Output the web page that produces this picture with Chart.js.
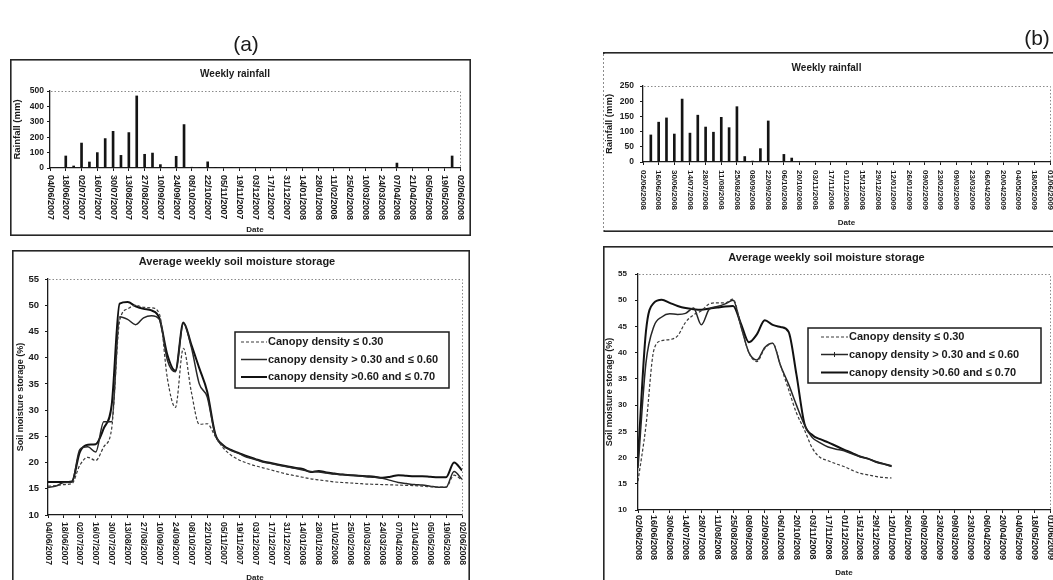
<!DOCTYPE html>
<html>
<head>
<meta charset="utf-8">
<script src="https://cdn.jsdelivr.net/npm/chart.js@4.4.1/dist/chart.umd.min.js"></script>
<style>
  html, body { margin: 0; padding: 0; background: #fff; }
  body { width: 1053px; height: 580px; overflow: hidden; position: relative;
         font-family: "Liberation Sans", Arial, Helvetica, sans-serif; }
  #sheet { position: absolute; left: 0; top: 0; width: 1053px; height: 580px; filter: blur(0.3px); }
  canvas { position: absolute; }
  .tag { position: absolute; font-size: 21px; color: #1b1b1b; transform: translate(-50%, -50%); white-space: nowrap; }
</style>
</head>
<body>
<div id="sheet">
<div class="tag" style="left:246px; top:44px;">(a)</div>
<div class="tag" style="left:1037px; top:38px;">(b)</div>

<canvas id="rainA" width="461" height="177" style="left:10px; top:59px;"></canvas>
<canvas id="soilA" width="458" height="340" style="left:12px; top:250px;"></canvas>
<canvas id="rainB" width="470" height="180" style="left:603px; top:52px;"></canvas>
<canvas id="soilB" width="470" height="345" style="left:603px; top:246px;"></canvas>
</div>

<script>
// Fortnightly date labels on the x axes (one every 2 weeks)
const datesA = ['04/06/2007','18/06/2007','02/07/2007','16/07/2007','30/07/2007','13/08/2007','27/08/2007',
  '10/09/2007','24/09/2007','08/10/2007','22/10/2007','05/11/2007','19/11/2007','03/12/2007','17/12/2007',
  '31/12/2007','14/01/2008','28/01/2008','11/02/2008','25/02/2008','10/03/2008','24/03/2008','07/04/2008',
  '21/04/2008','05/05/2008','19/05/2008','02/06/2008'];
const datesB = ['02/06/2008','16/06/2008','30/06/2008','14/07/2008','28/07/2008','11/08/2008','25/08/2008',
  '08/09/2008','22/09/2008','06/10/2008','20/10/2008','03/11/2008','17/11/2008','01/12/2008','15/12/2008',
  '29/12/2008','12/01/2009','26/01/2009','09/02/2009','23/02/2009','09/03/2009','23/03/2009','06/04/2009',
  '20/04/2009','04/05/2009','18/05/2009','01/06/2009'];

// Weekly rainfall (mm), week 0 = first date of each season
const rainA = [0,0,78,13,162,39,100,191,238,82,230,468,89,97,22,0,76,282,5,2,40,3,0,2,0,0,
  0,0,0,0,0,0,0,0,0,0,0,0,0,0,0,0,2,0,32,0,0,0,0,0,2,78,0];
const rainB = [0,89,131,145,92,207,95,154,115,98,147,113,182,18,3,44,135,0,25,13,0,0,0,0,0,0,
  0,0,0,0,0,0,0,0,0,0,0,0,0,0,0,0,0,0,0,0,0,0,0,0,0,0,0];

// Average weekly soil moisture storage (%), season 2007-08
const soilA_low = [15.5,15.6,15.8,16.0,19.5,21.0,20.4,23.0,26.5,47.0,49.3,50.0,49.6,49.5,48.3,36.0,30.5,41.8,
  33.5,27.3,27.4,25.0,22.8,21.4,20.5,19.9,19.4,19.0,18.6,18.2,17.8,17.5,17.2,16.9,16.7,16.5,16.3,16.2,16.1,
  16.0,15.9,15.85,15.8,15.75,15.7,15.65,15.6,15.5,15.4,15.3,15.3,17.6,16.7];
const soilA_mid = [15.3,15.5,16.2,16.3,22.5,23.0,22.0,27.8,27.8,47.8,47.3,46.3,47.6,48.0,47.3,39.5,37.3,46.5,
  42.0,35.0,32.5,25.3,23.2,22.3,21.7,21.0,20.6,20.1,19.8,19.5,19.2,18.9,18.6,18.3,18.2,18.0,17.8,17.7,17.6,
  17.5,17.3,17.2,17.0,16.6,16.2,16.0,15.8,15.7,15.5,15.3,15.3,18.3,16.8];
const soilA_high = [16.3,16.3,16.3,16.4,22.0,23.4,23.5,26.5,31.0,50.3,50.6,49.8,49.3,49.0,47.5,40.5,37.5,46.7,
  42.5,38.0,33.5,25.5,23.3,22.4,21.8,21.2,20.7,20.2,19.9,19.6,19.3,19.0,18.8,18.2,18.4,18.1,17.9,17.7,17.6,
  17.5,17.4,17.3,17.1,17.3,17.6,17.5,17.4,17.4,17.3,17.2,17.2,20.0,18.5];

// Average weekly soil moisture storage (%), season 2008-09 (to 12/01/2009)
const soilB_low = [15.5,26.0,40.5,42.3,42.5,43.2,45.8,47.2,48.0,49.3,49.5,49.5,50.2,45.0,40.0,38.3,40.8,41.8,
  37.5,33.0,28.5,25.3,21.8,20.0,19.4,18.8,18.3,17.6,17.0,16.7,16.4,16.2,16.1];
const soilB_mid = [18.0,38.0,45.0,46.8,47.4,47.3,47.5,48.5,45.3,48.3,48.8,49.3,50.0,45.0,40.0,38.6,41.0,41.8,
  37.5,34.0,30.0,26.3,23.8,22.8,22.0,21.6,21.3,20.7,20.2,19.8,19.2,18.8,18.3];
const soilB_high = [20.0,44.0,49.5,50.1,49.5,48.9,48.5,48.3,48.2,48.4,48.6,48.8,48.9,45.5,42.0,43.5,46.2,45.3,
  44.9,44.0,35.8,26.5,24.3,23.5,22.9,22.2,21.5,20.9,20.2,19.8,19.2,18.8,18.4];

const seriesNames = ['Canopy density \u2264 0.30', 'canopy density > 0.30 and \u2264 0.60', 'canopy density >0.60 and \u2264 0.70'];

const ink = '#1b1b1b';
const FONT = '"Liberation Sans", Arial, Helvetica, sans-serif';
Chart.defaults.font.family = FONT;
Chart.defaults.color = ink;

const weekPoints = values => values.map((v, i) => ({ x: i, y: v }));

// Rotated (top-to-bottom) date labels under the x axis
function drawDates(chart, labels, gap, size) {
  const sx = chart.scales.x, ctx = chart.ctx;
  ctx.save();
  ctx.font = `bold ${size}px ${FONT}`;
  ctx.fillStyle = ink;
  ctx.textAlign = 'left';
  ctx.textBaseline = 'middle';
  labels.forEach((t, i) => {
    const px = sx.getPixelForValue(i * 2);
    ctx.save();
    ctx.translate(px, sx.top + gap);
    ctx.rotate(Math.PI / 2);
    ctx.fillText(t, 0, 0);
    ctx.restore();
  });
  ctx.restore();
}

// Boxed legend inside the plot area
function drawLegend(chart, L) {
  const ctx = chart.ctx;
  ctx.save();
  ctx.fillStyle = '#fff';
  ctx.fillRect(L.x, L.y, L.w, L.h);
  ctx.strokeStyle = ink;
  ctx.lineWidth = 1.5;
  ctx.strokeRect(L.x, L.y, L.w, L.h);
  ctx.font = `bold ${L.size}px ${FONT}`;
  ctx.textAlign = 'left';
  ctx.textBaseline = 'middle';
  chart.data.datasets.forEach((ds, i) => {
    const y = L.rows[i];
    ctx.save();
    ctx.strokeStyle = ds.borderColor;
    ctx.lineWidth = ds.borderWidth;
    ctx.setLineDash(ds.borderDash || []);
    ctx.beginPath();
    ctx.moveTo(L.x0, y);
    ctx.lineTo(L.x1, y);
    ctx.stroke();
    if (ds.pointStyle === 'cross') {
      const mx = (L.x0 + L.x1) / 2;
      ctx.setLineDash([]);
      ctx.lineWidth = 1;
      ctx.beginPath();
      ctx.moveTo(mx, y - 2.5); ctx.lineTo(mx, y + 2.5);
      ctx.stroke();
    }
    ctx.restore();
    ctx.fillStyle = ink;
    ctx.fillText(ds.label, L.tx, y);
  });
  ctx.restore();
}

// Panel frame, dotted plot-area edge, date labels and legend
function decor(o) {
  return {
    id: 'decor',
    beforeDraw(chart) {
      const { ctx, width, height } = chart;
      ctx.save();
      ctx.fillStyle = '#fff';
      ctx.fillRect(0, 0, width, height);
      ctx.strokeStyle = '#262626';
      ctx.lineWidth = 1.6;
      ctx.strokeRect(0.8, 0.8, width - 1.6, height - 1.6);
      if (o.softLeft) {
        ctx.fillStyle = '#fff';
        ctx.fillRect(0, 2, 3, height - 4);
        ctx.strokeStyle = '#8c8c8c';
        ctx.lineWidth = 1;
        ctx.setLineDash([2, 2]);
        ctx.beginPath();
        ctx.moveTo(0.5, 2); ctx.lineTo(0.5, height);
        ctx.stroke();
      }
      ctx.restore();
    },
    afterDraw(chart) {
      const { ctx, chartArea: a } = chart;
      ctx.save();
      ctx.strokeStyle = '#8a8a8a';
      ctx.lineWidth = 1;
      ctx.setLineDash([1.5, 2]);
      ctx.beginPath();
      ctx.moveTo(a.left + 1, a.top + 0.5);
      ctx.lineTo(a.right + 0.5, a.top + 0.5);
      ctx.lineTo(a.right + 0.5, a.bottom);
      ctx.stroke();
      ctx.restore();
      drawDates(chart, o.dates, o.dateGap, o.dateSize);
      if (o.legend) drawLegend(chart, o.legend);
    }
  };
}

function xScale(maxWeek, height, datePad) {
  return {
    type: 'linear', min: 0, max: maxWeek, offset: false,
    ticks: { display: false, stepSize: 2 },
    grid: { display: true, drawOnChartArea: false, drawTicks: true, tickLength: 3, color: ink, lineWidth: 1, offset: false },
    border: { display: true, color: ink, width: 1.3 },
    title: { display: true, text: 'Date', color: ink, font: { size: 8, weight: 'bold' }, padding: { top: 0, bottom: datePad } },
    afterFit(s) { s.height = height; }
  };
}

function yScale(y) {
  return {
    type: 'linear', min: y.min, max: y.max,
    ticks: { stepSize: y.step, color: ink, font: { size: y.tickSize, weight: 'bold' }, padding: y.tickPad },
    grid: { display: true, drawOnChartArea: false, drawTicks: true, tickLength: 3, color: ink },
    border: { display: true, color: ink, width: 1.3 },
    title: { display: true, text: y.title, color: ink, font: { size: y.titleSize, weight: 'bold' }, padding: { top: y.titlePad, bottom: 0 } },
    afterFit(s) { s.width = y.width; }
  };
}

function baseOptions(p) {
  return {
    responsive: false, animation: false, devicePixelRatio: 1,
    layout: { padding: { left: 0, right: p.padRight, top: 0, bottom: 0 } },
    plugins: {
      legend: { display: false },
      tooltip: { enabled: false },
      title: { display: true, text: p.title, color: ink, font: { size: p.titleSize, weight: 'bold' },
               padding: { top: p.titleTop, bottom: p.titleBottom } }
    },
    scales: { x: p.x, y: p.y }
  };
}

function rainChart(id, values, dates, p) {
  return new Chart(document.getElementById(id), {
    type: 'bar',
    data: { datasets: [{ label: 'Rainfall (mm)', data: weekPoints(values), backgroundColor: '#141414', barThickness: 2, borderWidth: 0 }] },
    options: baseOptions(p),
    plugins: [decor({ dates, dateGap: p.dateGap, dateSize: p.dateSize, softLeft: p.softLeft })]
  });
}

function soilChart(id, low, mid, high, dates, p) {
  const common = { pointRadius: 0, cubicInterpolationMode: 'monotone', fill: false };
  return new Chart(document.getElementById(id), {
    type: 'line',
    data: { datasets: [
      Object.assign({ label: seriesNames[0], data: weekPoints(low), borderColor: '#3a3a3a', borderWidth: 1.2, borderDash: [3, 2] }, common),
      Object.assign({ label: seriesNames[1], data: weekPoints(mid), borderColor: '#262626', borderWidth: 1.5, pointStyle: p.midMarker ? 'cross' : 'circle' }, common),
      Object.assign({ label: seriesNames[2], data: weekPoints(high), borderColor: '#111', borderWidth: 2 }, common)
    ] },
    options: baseOptions(p),
    plugins: [decor({ dates, dateGap: p.dateGap, dateSize: p.dateSize, legend: p.legend, softLeft: p.softLeft })]
  });
}

rainChart('rainA', rainA, datesA, {
  title: 'Weekly rainfall', titleSize: 10, titleTop: 9, titleBottom: 11, padRight: 11,
  x: xScale(52, 68, 1.2),
  y: yScale({ min: 0, max: 500, step: 100, width: 40, title: 'Rainfall (mm)', titleSize: 9.5, titlePad: 1.3, tickSize: 8.5, tickPad: 3 }),
  dateGap: 7, dateSize: 9
});

rainChart('rainB', rainB, datesB, {
  title: 'Weekly rainfall', titleSize: 10, titleTop: 10, titleBottom: 12, padRight: 23,
  x: xScale(52, 70, 4.2),
  y: yScale({ min: 0, max: 250, step: 50, width: 40, title: 'Rainfall (mm)', titleSize: 9.5, titlePad: 0.5, tickSize: 8.5, tickPad: 6 }),
  dateGap: 8, dateSize: 8, softLeft: true
});

soilChart('soilA', soilA_low, soilA_mid, soilA_high, datesA, {
  title: 'Average weekly soil moisture storage', titleSize: 11, titleTop: 5.4, titleBottom: 10.4, padRight: 8,
  x: xScale(52, 75, 7.2),
  y: yScale({ min: 10, max: 55, step: 5, width: 36, title: 'Soil moisture storage (%)', titleSize: 9, titlePad: 3.6, tickSize: 9.5, tickPad: 6 }),
  dateGap: 7, dateSize: 8.6,
  legend: { x: 223, y: 82, w: 214, h: 56, rows: [92, 109.5, 127], x0: 229, x1: 255, tx: 256, size: 11 }
});

soilChart('soilB', soilB_low, soilB_mid, soilB_high, datesB, {
  title: 'Average weekly soil moisture storage', titleSize: 11, titleTop: 5.4, titleBottom: 9.4, padRight: 23,
  x: xScale(52, 81, 13.2),
  y: yScale({ min: 10, max: 55, step: 5, width: 35, title: 'Soil moisture storage (%)', titleSize: 9, titlePad: 1.6, tickSize: 8, tickPad: 8 }),
  dateGap: 5, dateSize: 9, midMarker: true,
  legend: { x: 205, y: 82, w: 233, h: 55, rows: [91, 108.5, 126.5], x0: 218, x1: 245, tx: 246, size: 11 }
});
</script>
</body>
</html>
